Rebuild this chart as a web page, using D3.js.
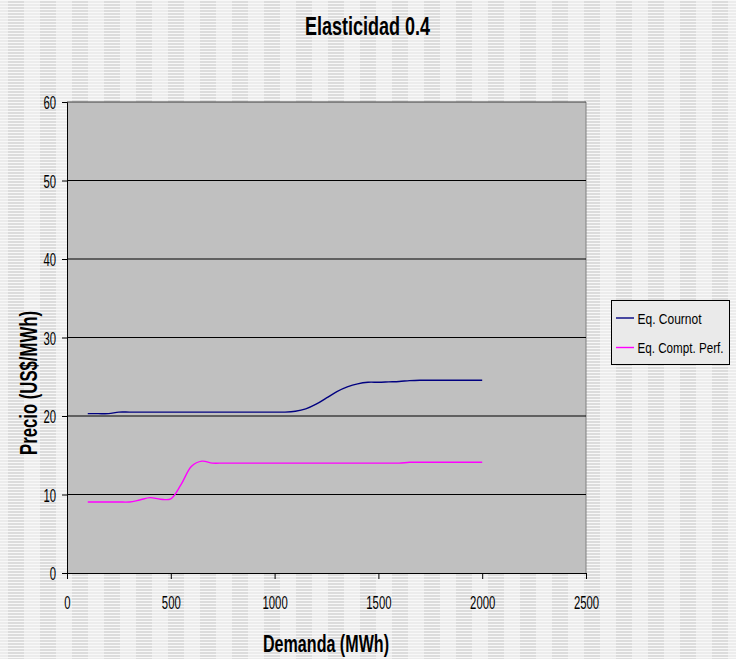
<!DOCTYPE html>
<html><head><meta charset="utf-8">
<script src="https://cdn.jsdelivr.net/npm/d3@7"></script>
<style>body{margin:0;background:#fff} svg{display:block}</style>
</head><body><svg id="c" width="736" height="659"></svg>
<script>
// ---- data ----
const demand = [100,150,200,250,300,350,400,450,500,550,600,650,700,750,800,850,900,950,1000,1050,
                1100,1150,1200,1250,1300,1350,1400,1450,1500,1550,1600,1650,1700,1750,1800,1850,1900,1950,2000];
const cournot = [20.3,20.3,20.3,20.5,20.5,20.5,20.5,20.5,20.5,20.5,20.5,20.5,20.5,20.5,20.5,20.5,20.5,20.5,20.5,20.5,
                 20.6,20.9,21.5,22.3,23.1,23.7,24.1,24.3,24.3,24.35,24.4,24.5,24.55,24.55,24.55,24.55,24.55,24.55,24.55];
const comptPerf = [9.05,9.05,9.05,9.05,9.05,9.3,9.6,9.4,9.45,11.3,13.6,14.25,14.0,14.0,14.0,14.0,14.0,14.0,14.0,14.0,
                   14.0,14.0,14.0,14.0,14.0,14.0,14.0,14.0,14.0,14.0,14.0,14.1,14.1,14.1,14.1,14.1,14.1,14.1,14.1];
const xTicks = [0,500,1000,1500,2000,2500];
const yTicks = [0,10,20,30,40,50,60];
const seriesNames = ["Eq. Cournot","Eq. Compt. Perf."];
const seriesColors = ["#000080","#ff00ff"];
const titleText = "Elasticidad 0.4";
const xLabel = "Demanda (MWh)";
const yLabel = "Precio (US$/MWh)";

// ---- drawing ----
const svg = d3.select("#c");
const FONT = "'Liberation Sans Narrow','Arial Narrow','Liberation Sans',Arial,sans-serif";
const L = 67, R = 586, T = 102, B = 573;

const defs = svg.append("defs");
const pat = defs.append("pattern").attr("id","bg").attr("patternUnits","userSpaceOnUse")
  .attr("width",32).attr("height",3);
pat.append("rect").attr("width",32).attr("height",3).attr("fill","#ececec");
pat.append("rect").attr("x",8).attr("width",16).attr("height",3).attr("fill","#dcdcdc");
pat.append("rect").attr("y",0).attr("width",32).attr("height",1).attr("fill","#f8f8f8");
svg.append("rect").attr("width",736).attr("height",659).attr("fill","url(#bg)");

const x = d3.scaleLinear().domain([0,2500]).range([L,R]);
const y = d3.scaleLinear().domain([0,60]).range([B,T]);

svg.append("rect").attr("x",L).attr("y",T).attr("width",R-L).attr("height",B-T).attr("fill","#c0c0c0");
svg.append("line").attr("x1",R).attr("x2",R).attr("y1",T).attr("y2",B).attr("stroke","#808080");

// gridlines
svg.append("g").selectAll("line").data(yTicks.filter(d=>d>0)).join("line")
  .attr("x1",L).attr("x2",R).attr("y1",d=>y(d)).attr("y2",d=>y(d))
  .attr("stroke",d=>d===60?"#404040":"#000").attr("stroke-width",1);

// axes
const gy = svg.append("g").attr("transform",`translate(${L},0)`)
  .call(d3.axisLeft(y).tickValues(yTicks).tickFormat(d3.format("d")).tickSize(5).tickPadding(10));
const gx = svg.append("g").attr("transform",`translate(0,${B})`)
  .call(d3.axisBottom(x).tickValues(xTicks).tickFormat(d3.format("d")).tickSize(6));
[gy,gx].forEach(g=>{
  g.select(".domain").attr("stroke","#000");
  g.selectAll(".tick line").attr("stroke","#000");
  g.selectAll("text").attr("font-family",FONT).attr("font-size",19).attr("fill","#000")
    .attr("lengthAdjust","spacingAndGlyphs")
    .attr("textLength",function(){return this.textContent.length*6.3;});
});
gy.selectAll("text").attr("x",-11).attr("dy","0.36em");
gx.selectAll("text").attr("y",36).attr("dy",0);

// lines
const series = [cournot, comptPerf];
const line = d3.line().x((d,i)=>x(demand[i])).y(d=>y(d)).curve(d3.curveCatmullRom.alpha(0.5));
svg.append("g").selectAll("path").data(series).join("path")
  .attr("d",d=>line(d)).attr("fill","none")
  .attr("stroke",(d,i)=>seriesColors[i]).attr("stroke-width",1.4);

// title & labels
svg.append("text").attr("x",367.5).attr("y",34.5).attr("text-anchor","middle")
  .attr("font-family",FONT).attr("font-weight","bold").attr("font-size",25)
  .attr("textLength",125).attr("lengthAdjust","spacingAndGlyphs").text(titleText);
svg.append("text").attr("x",326).attr("y",651.5).attr("text-anchor","middle")
  .attr("font-family",FONT).attr("font-weight","bold").attr("font-size",23)
  .attr("textLength",126).attr("lengthAdjust","spacingAndGlyphs").text(xLabel);
svg.append("text").attr("transform","translate(37,383) rotate(-90)").attr("text-anchor","middle")
  .attr("font-family",FONT).attr("font-weight","bold").attr("font-size",23)
  .attr("textLength",144).attr("lengthAdjust","spacingAndGlyphs").text(yLabel);

// legend
const lg = svg.append("g");
lg.append("rect").attr("x",611.5).attr("y",300.5).attr("width",118).attr("height",64)
  .attr("fill","#eaeaea").attr("stroke","#000");
const lenLegend = [64,86];
seriesNames.forEach((n,i)=>{
  const yy = 318 + i*29.5;
  lg.append("line").attr("x1",616).attr("x2",634).attr("y1",yy).attr("y2",yy)
    .attr("stroke",seriesColors[i]).attr("stroke-width",1.4);
  lg.append("text").attr("x",637.5).attr("y",yy+5.5).attr("font-family",FONT).attr("font-size",14.5)
    .attr("textLength",lenLegend[i]).attr("lengthAdjust","spacingAndGlyphs").text(n);
});
</script></body></html>
